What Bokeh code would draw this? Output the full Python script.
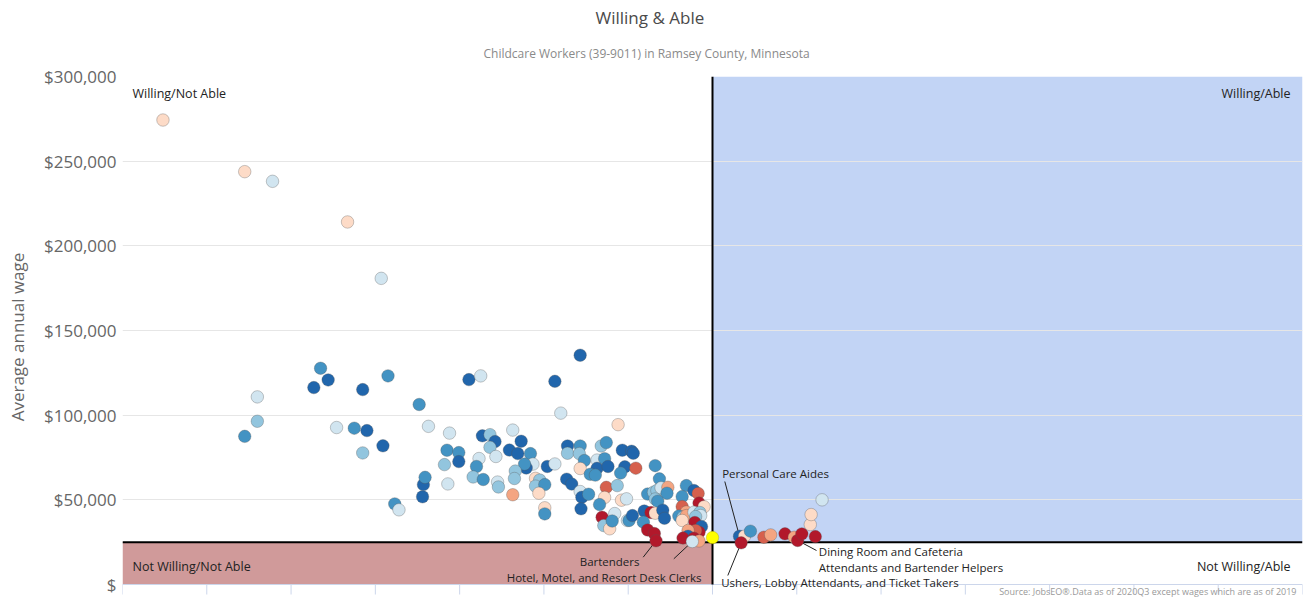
from bokeh.plotting import figure
from bokeh.models import (Range1d, FixedTicker, CustomJSTickFormatter, BoxAnnotation,
                          Span, Label, Grid, ColumnDataSource, Title)
from bokeh.embed import file_html
from bokeh.resources import INLINE

# ---------------- data ----------------
TITLE = "Willing & Able"
SUBTITLE = "Childcare Workers (39-9011) in Ramsey County, Minnesota"
SOURCE = "Source: JobsEO\u00ae.Data as of 2020Q3 except wages which are as of 2019"
Y_LABEL = "Average annual wage"
Y_TICKS = [0, 50000, 100000, 150000, 200000, 250000, 300000]
X_TICKS = list(range(0, 15))
WAGE_THRESHOLD = 25000
WILLING_THRESHOLD = 7.0

TARGET_X = [7.0]
TARGET_WAGE = [27700]

occ_x = [
    0.48, 1.45, 1.78, 2.67, 3.07, 1.45, 1.60, 1.60, 2.27, 2.35,
    2.44, 2.54, 2.75, 2.85, 2.85, 2.90, 3.09, 3.15, 3.23, 3.28,
    3.52, 3.56, 3.57, 3.59, 3.63, 3.85, 3.82, 3.86, 3.88, 3.99,
    3.99, 4.11, 4.25, 5.13, 5.43, 5.20, 4.27, 4.36, 4.42, 4.36,
    4.43, 4.23, 4.20, 4.16, 4.28, 4.45, 4.46, 4.63, 4.59, 4.69,
    4.73, 4.84, 4.87, 4.79, 4.77, 4.66, 4.65, 4.63, 4.90, 4.95,
    4.90, 5.01, 4.94, 5.01, 5.01, 5.04, 5.13, 5.27, 5.33, 5.28,
    5.28, 5.43, 5.42, 5.48, 5.43, 5.43, 5.45, 5.44, 5.53, 5.68,
    5.74, 5.63, 5.72, 5.63, 5.76, 5.55, 5.61, 5.74, 5.72, 5.66,
    5.69, 5.71, 5.78, 5.84, 5.81, 5.87, 5.88, 5.93, 6.04, 6.06,
    5.96, 6.09, 5.91, 5.92, 5.98, 5.99, 6.01, 6.05, 6.32, 6.37,
    6.23, 6.30, 6.34, 6.39, 6.47, 6.46, 6.32, 6.35, 6.69, 6.78,
    6.83, 6.64, 6.84, 6.90, 6.64, 6.69, 6.60, 6.65, 6.69, 6.78,
    6.85, 6.86, 6.80, 6.64, 6.79, 6.87, 6.84, 6.80, 6.71, 6.71,
    6.65, 6.78, 6.84, 6.76, 6.19, 6.27, 6.32, 6.41, 6.43, 6.18,
    6.23, 6.31, 6.33, 7.32, 7.38, 7.45, 7.34, 7.61, 7.69, 7.86,
    7.97, 8.01, 8.06, 8.22, 8.16, 8.17, 8.30,
]
occ_wage = [
    274300, 243800, 238100, 214100, 180800, 87500, 110800, 96400, 116300, 127700,
    120800, 92700, 92300, 115100, 77700, 90900, 81900, 123200, 47600, 44100,
    106300, 51800, 59000, 63300, 93400, 79300, 70800, 59400, 89400, 77900,
    72600, 121000, 123200, 120000, 135400, 101200, 87800, 88500, 84400, 81000,
    75600, 74400, 69700, 63500, 62000, 60500, 57600, 91200, 79400, 77300,
    84600, 77300, 71100, 68800, 71100, 67000, 62600, 53000, 62700, 61700,
    58100, 59000, 53900, 45300, 41700, 69700, 71200, 62200, 59300, 81800,
    77500, 81800, 77300, 73200, 68500, 54900, 51500, 44700, 53300, 81800,
    83800, 73500, 74300, 68600, 69700, 65100, 64600, 57400, 51400, 47200,
    39700, 34800, 32900, 41900, 37500, 58400, 94400, 79300, 78700, 77500,
    69500, 68700, 65800, 49800, 50600, 37800, 37800, 40700, 70200, 62400,
    53400, 54500, 55500, 57100, 57400, 53900, 50500, 49200, 58400, 55500,
    53800, 51900, 48100, 45900, 46000, 42800, 40400, 39700, 40700, 42700,
    42500, 40700, 40100, 37800, 36600, 34200, 30900, 31900, 31900, 28500,
    27400, 27300, 25700, 25400, 43400, 42500, 42100, 43900, 39100, 36800,
    32200, 30100, 25800, 28500, 28500, 31500, 24600, 27900, 29300, 29900,
    27900, 26000, 29900, 28300, 35400, 41300, 50000,
]
# colour class (0 = darkest blue ... 7 = darkest red)
occ_group = [
    4, 4, 3, 4, 3, 1, 3, 2, 0, 1,
    0, 3, 1, 0, 2, 0, 0, 1, 1, 3,
    1, 0, 0, 1, 3, 1, 2, 3, 3, 1,
    0, 0, 3, 0, 0, 3, 0, 2, 0, 2,
    3, 3, 1, 2, 1, 3, 2, 3, 0, 0,
    0, 1, 3, 0, 1, 2, 2, 5, 4, 2,
    2, 1, 4, 4, 1, 0, 3, 0, 0, 0,
    2, 1, 2, 1, 4, 3, 0, 0, 1, 2,
    1, 3, 1, 0, 0, 1, 1, 6, 4, 1,
    7, 2, 4, 3, 1, 2, 4, 0, 0, 0,
    0, 6, 1, 4, 3, 3, 1, 0, 1, 1,
    1, 2, 2, 3, 5, 1, 2, 1, 1, 0,
    6, 1, 7, 4, 6, 5, 1, 2, 5, 3,
    2, 3, 2, 4, 7, 0, 7, 6, 5, 0,
    7, 7, 5, 3, 0, 7, 4, 0, 0, 1,
    7, 7, 7, 0, 4, 1, 7, 6, 5, 7,
    5, 7, 7, 7, 4, 4, 3,
]
PALETTE = ["#2166ac", "#4393c3", "#92c5de", "#d1e5f0",
           "#fddbc7", "#f4a582", "#d6604d", "#b2182b"]

QUADRANTS = ["Willing/Not Able", "Willing/Able", "Not Willing/Not Able", "Not Willing/Able"]

# callout label -> (x, wage) of the occupation it points to
CALLOUT_NAMES = ["Bartenders", "Hotel, Motel, and Resort Desk Clerks", "Personal Care Aides",
                 "Ushers, Lobby Attendants, and Ticket Takers",
                 "Dining Room and Cafeteria\nAttendants and Bartender Helpers"]
CALLOUT_X = [6.33, 6.76, 7.32, 7.34, 8.01]
CALLOUT_WAGE = [25800, 25400, 28500, 24600, 26000]

# ---------------- layout ----------------
# frame on the page: left 122, right 1302, top 76 ($300,000), $0 at 584, frame bottom 597
FR_L, FR_T, FR_W = 122, 76, 1180
PX_ZERO, FR_B = 584, 597
X_MIN, X_MAX = 0, 14
Y_MAX = 300000
Y_PER_PX = Y_MAX / (PX_ZERO - FR_T)
Y_MIN = -(FR_B - PX_ZERO) * Y_PER_PX


def dx(px):
    return X_MIN + (px - FR_L) / FR_W * (X_MAX - X_MIN)


def dy(py):
    return (PX_ZERO - py) * Y_PER_PX


FONT = "Open Sans"

p = figure(width=1304, height=600, x_range=Range1d(X_MIN, X_MAX), y_range=Range1d(Y_MIN, Y_MAX),
           output_backend="svg", toolbar_location=None, x_axis_location=None,
           min_border_left=FR_L, min_border_top=FR_T, min_border_right=2,
           min_border_bottom=600 - FR_B)
p.outline_line_color = None
p.background_fill_color = "white"
p.border_fill_color = "white"
p.xgrid.visible = False
p.ygrid.visible = False

# titles (the later-added one sits closest to the frame)
p.title.text = TITLE
p.title.text_font = FONT
p.title.text_font_size = "17px"
p.title.text_font_style = "normal"
p.title.text_color = "#4a4a4a"
p.title.align = "left"
p.title.offset = 595 - FR_L
p.title.standoff = 0
p.add_layout(Title(text=SUBTITLE, text_font=FONT, text_font_size="12px", text_font_style="normal",
                   text_color="#8a8a8a", align="left", offset=483 - FR_L, standoff=29), "above")

# quadrant backgrounds
p.add_layout(BoxAnnotation(left=WILLING_THRESHOLD, bottom=WAGE_THRESHOLD, top=Y_MAX,
                           fill_color="#c2d4f5", fill_alpha=1, line_color=None, level="underlay"))
p.add_layout(BoxAnnotation(right=WILLING_THRESHOLD, top=WAGE_THRESHOLD, bottom=0,
                           fill_color="#d09a9a", fill_alpha=1, line_color=None, level="underlay"))
p.add_layout(Grid(dimension=1, ticker=FixedTicker(ticks=Y_TICKS[1:]), grid_line_color="#e6e6e6",
                  grid_line_width=1, level="underlay"))

# x axis baseline and tick marks (no labels in the original)
p.add_layout(Span(location=0, dimension="width", line_color="#ccd6eb", line_width=1,
                  level="underlay"))
p.segment(x0=X_TICKS, y0=[0] * len(X_TICKS), x1=X_TICKS, y1=[dy(PX_ZERO + 10)] * len(X_TICKS),
          line_color="#ccd6eb", line_width=1)

# threshold lines
p.add_layout(Span(location=WAGE_THRESHOLD, dimension="width", line_color="black",
                  line_width=2, level="underlay"))
p.segment(x0=[WILLING_THRESHOLD], y0=[0], x1=[WILLING_THRESHOLD], y1=[Y_MAX],
          line_color="black", line_width=2)

# y axis
yax = p.yaxis[0]
yax.ticker = FixedTicker(ticks=Y_TICKS)
yax.formatter = CustomJSTickFormatter(code=r"""
    if (tick == 0) { return "$"; }
    return "$" + tick.toFixed(0).replace(/\B(?=(\d{3})+(?!\d))/g, ",");
""")
yax.axis_line_color = None
yax.major_tick_line_color = None
yax.minor_tick_line_color = None
yax.major_tick_out = 0
yax.major_tick_in = 0
yax.major_label_standoff = 6
yax.major_label_text_font = FONT
yax.major_label_text_font_size = "17px"
yax.major_label_text_color = "#666666"
yax.axis_label = Y_LABEL
yax.axis_label_text_font = FONT
yax.axis_label_text_font_size = "17px"
yax.axis_label_text_font_style = "normal"
yax.axis_label_text_color = "#666666"
yax.axis_label_standoff = 12

# callout leader lines
starts = [(642.7, 556.7), (673.3, 558.3), (724.3, 481.0), (727.3, 575.0), (816.0, 550.0)]
p.segment(x0=[dx(s[0]) for s in starts], y0=[dy(s[1]) for s in starts],
          x1=CALLOUT_X, y1=CALLOUT_WAGE, line_color="#222222", line_width=1)

# occupations
src = ColumnDataSource(dict(x=occ_x, wage=occ_wage, color=[PALETTE[g] for g in occ_group]))
p.scatter("x", "wage", source=src, size=12.5, fill_color="color", line_color="#555555",
          line_alpha=0.55, line_width=0.6)
p.scatter(TARGET_X, TARGET_WAGE, size=12.5, fill_color="#ffff00", line_color="#999900",
          line_alpha=0.6, line_width=0.6)


def label(text, px, py, size, color, align="left"):
    p.add_layout(Label(x=dx(px), y=dy(py), text=text, text_font=FONT, text_font_size=size,
                       text_color=color, text_align=align, text_baseline="middle"))


label(QUADRANTS[0], 132, 93, "12.5px", "#222222", "left")
label(QUADRANTS[1], 1290, 93, "12.5px", "#222222", "right")
label(QUADRANTS[2], 132, 566, "12.5px", "#222222", "left")
label(QUADRANTS[3], 1290, 566, "12.5px", "#222222", "right")
label(SOURCE, 1296, 591, "9px", "#999999", "right")

callout_pos = [(639, 561, "right"), (701, 577, "right"), (721.7, 473.3, "left"),
               (720.7, 582, "left"), (818.3, 550.7, "left")]
for name, (px, py, al) in zip(CALLOUT_NAMES, callout_pos):
    for k, line in enumerate(name.split("\n")):
        label(line, px, py + 16 * k, "11.5px", "#222222", al)

open("out.html", "w").write(file_html(p, INLINE, title="Willing & Able"))
